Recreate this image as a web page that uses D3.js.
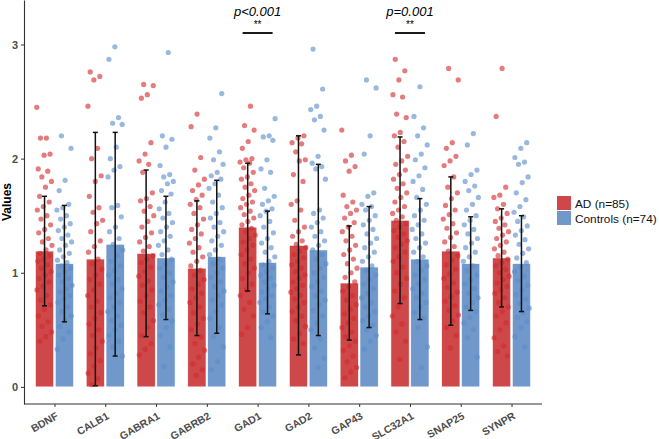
<!DOCTYPE html>
<html lang="en">
<head>
  <meta charset="UTF-8">
  <title>AD vs Controls</title>
  <script src="https://d3js.org/d3.v7.min.js"></script>
  <style>
    body { margin: 0; padding: 0; background: #fff; font-family: "Liberation Sans", Arial, sans-serif; }
    svg { display: block; }
  </style>
</head>
<body>
  <svg id="chart" width="659" height="439"></svg>
  <script>
    const genes = ["BDNF", "CALB1", "GABRA1", "GABRB2", "GAD1", "GAD2", "GAP43", "SLC32A1", "SNAP25", "SYNPR"];
    const groups = ["AD (n=85)", "Controls (n=74)"];
    const yTicks = [0, 1, 2, 3];

    const meanAD   = [1.19, 1.12, 1.17, 1.04, 1.40, 1.24, 0.91, 1.46, 1.19, 1.13];
    const sdAD     = [0.48, 1.11, 0.73, 0.59, 0.56, 0.96, 0.50, 0.73, 0.65, 0.43];
    const meanCtrl = [1.08, 1.25, 1.13, 1.14, 1.09, 1.20, 1.05, 1.12, 1.08, 1.08];
    const sdCtrl   = [0.51, 0.98, 0.54, 0.67, 0.45, 0.75, 0.53, 0.53, 0.41, 0.42];

    const pointsAD = [
      [2.45,2.18,2.18,2.04,2.03,1.91,1.89,1.84,1.80,1.75,1.67,1.62,1.58,1.55,1.50,1.47,1.42,1.38,1.35,1.30,1.27,1.24,1.20,1.17,1.15,1.12,1.10,1.07,1.04,1.01,0.98,0.95,0.92,0.88,0.85,0.80,0.76,0.72,0.68,0.62,0.57,0.53,0.48,0.44,0.40],
      [2.76,2.72,2.69,2.46,2.09,2.00,1.85,1.80,1.67,1.57,1.53,1.46,1.43,1.36,1.28,1.23,1.18,1.12,1.08,1.03,0.98,0.94,0.90,0.85,0.80,0.75,0.70,0.65,0.60,0.55,0.50,0.45,0.40,0.34,0.29,0.23,0.18,0.12,0.07,0.02],
      [2.65,2.64,2.56,2.53,2.14,2.04,1.98,1.95,1.88,1.70,1.65,1.63,1.58,1.54,1.50,1.45,1.40,1.35,1.31,1.27,1.23,1.19,1.15,1.12,1.09,1.05,1.01,0.97,0.93,0.89,0.85,0.80,0.75,0.70,0.65,0.58,0.52,0.45,0.38,0.33,0.28],
      [2.39,2.28,2.01,1.90,1.82,1.77,1.72,1.68,1.64,1.60,1.57,1.52,1.47,1.42,1.38,1.34,1.30,1.26,1.22,1.18,1.14,1.10,1.06,1.02,0.98,0.94,0.90,0.86,0.82,0.78,0.74,0.70,0.65,0.60,0.55,0.50,0.44,0.38,0.32,0.26,0.20,0.15,0.10],
      [2.46,2.29,2.25,2.15,2.09,2.00,1.99,1.97,1.96,1.92,1.88,1.84,1.82,1.78,1.75,1.72,1.68,1.65,1.62,1.60,1.57,1.54,1.51,1.48,1.45,1.42,1.39,1.36,1.33,1.30,1.27,1.24,1.20,1.16,1.12,1.08,1.04,1.00,0.95,0.90,0.85,0.80,0.74,0.68,0.62,0.52,0.46],
      [2.20,2.18,2.14,2.13,2.06,1.99,1.98,1.86,1.80,1.63,1.60,1.55,1.46,1.40,1.36,1.32,1.28,1.25,1.22,1.19,1.16,1.13,1.10,1.07,1.04,1.01,0.98,0.95,0.92,0.89,0.86,0.83,0.80,0.77,0.74,0.70,0.66,0.62,0.58,0.53,0.47,0.42,0.38],
      [2.25,2.03,1.98,1.93,1.89,1.68,1.62,1.58,1.55,1.52,1.48,1.44,1.40,1.36,1.32,1.28,1.24,1.20,1.16,1.12,1.08,1.04,1.00,0.96,0.92,0.88,0.84,0.80,0.76,0.72,0.68,0.64,0.60,0.56,0.52,0.48,0.44,0.40,0.36,0.32,0.27,0.22,0.17,0.13,0.08],
      [2.87,2.77,2.69,2.56,2.54,2.39,2.36,2.23,2.20,2.15,2.10,2.02,1.98,1.95,1.90,1.86,1.82,1.78,1.74,1.70,1.66,1.62,1.58,1.55,1.52,1.49,1.46,1.43,1.40,1.37,1.34,1.31,1.28,1.25,1.22,1.18,1.14,1.10,1.05,1.00,0.95,0.90,0.84,0.78,0.70,0.62,0.55,0.48,0.40,0.24],
      [2.79,2.69,2.14,2.09,2.02,1.98,1.94,1.84,1.75,1.70,1.65,1.59,1.55,1.51,1.47,1.43,1.39,1.35,1.31,1.27,1.23,1.19,1.15,1.11,1.07,1.03,0.99,0.95,0.91,0.87,0.83,0.79,0.75,0.71,0.67,0.63,0.58,0.52,0.45,0.34],
      [2.79,2.37,1.75,1.68,1.66,1.60,1.56,1.52,1.48,1.45,1.42,1.39,1.36,1.33,1.30,1.27,1.24,1.21,1.18,1.15,1.12,1.09,1.06,1.03,1.00,0.97,0.94,0.91,0.88,0.85,0.82,0.78,0.74,0.70,0.66,0.62,0.56,0.50,0.43,0.36,0.31,0.27]
    ];

    const pointsCtrl = [
      [2.20,2.09,1.81,1.72,1.60,1.57,1.55,1.50,1.47,1.43,1.40,1.37,1.33,1.30,1.27,1.24,1.20,1.17,1.14,1.11,1.09,1.06,1.04,1.01,0.98,0.95,0.92,0.89,0.86,0.83,0.80,0.77,0.74,0.70,0.66,0.62,0.58,0.53,0.48,0.42,0.33],
      [2.98,2.87,2.36,2.31,2.30,2.10,2.00,1.93,1.90,1.84,1.59,1.57,1.49,1.40,1.36,1.30,1.25,1.20,1.15,1.10,1.06,1.02,0.98,0.94,0.90,0.86,0.82,0.78,0.74,0.70,0.66,0.62,0.58,0.54,0.50,0.45,0.40,0.35,0.27],
      [2.93,2.20,2.17,2.10,1.94,1.86,1.84,1.80,1.78,1.72,1.69,1.62,1.56,1.52,1.48,1.44,1.40,1.36,1.32,1.28,1.24,1.20,1.16,1.12,1.08,1.04,1.00,0.96,0.92,0.88,0.84,0.80,0.76,0.72,0.68,0.63,0.58,0.52,0.45,0.35,0.18],
      [2.57,2.27,2.18,2.06,1.99,1.95,1.88,1.85,1.82,1.78,1.74,1.68,1.62,1.57,1.52,1.48,1.44,1.40,1.36,1.32,1.28,1.24,1.20,1.16,1.12,1.08,1.04,1.00,0.96,0.92,0.88,0.84,0.80,0.76,0.72,0.66,0.60,0.52,0.44,0.35,0.22,0.15],
      [2.35,2.20,2.19,2.16,1.99,1.91,1.88,1.74,1.67,1.63,1.60,1.56,1.54,1.50,1.45,1.40,1.35,1.30,1.26,1.22,1.18,1.14,1.10,1.07,1.04,1.01,0.98,0.95,0.92,0.89,0.86,0.83,0.80,0.77,0.74,0.70,0.66,0.62,0.57,0.52,0.43],
      [2.96,2.61,2.46,2.43,2.37,2.34,2.25,2.02,1.96,1.93,1.91,1.82,1.55,1.52,1.48,1.44,1.40,1.36,1.32,1.28,1.24,1.20,1.16,1.12,1.08,1.04,1.00,0.96,0.92,0.88,0.84,0.80,0.76,0.72,0.67,0.62,0.56,0.50,0.42,0.34,0.25,0.17],
      [2.69,2.62,2.20,2.04,1.70,1.67,1.60,1.58,1.55,1.50,1.46,1.42,1.38,1.34,1.30,1.26,1.22,1.18,1.14,1.10,1.06,1.02,0.98,0.94,0.90,0.86,0.82,0.78,0.74,0.70,0.66,0.62,0.58,0.54,0.50,0.45,0.40,0.33],
      [2.63,2.37,2.27,2.20,2.12,2.04,1.99,1.92,1.85,1.80,1.73,1.66,1.60,1.55,1.50,1.46,1.42,1.38,1.34,1.30,1.26,1.22,1.18,1.14,1.10,1.06,1.02,0.98,0.94,0.90,0.86,0.82,0.78,0.74,0.70,0.65,0.60,0.52,0.35,0.17],
      [2.22,2.12,1.90,1.86,1.80,1.76,1.72,1.66,1.60,1.55,1.50,1.46,1.42,1.38,1.34,1.30,1.26,1.22,1.18,1.14,1.10,1.06,1.02,0.98,0.94,0.90,0.86,0.82,0.78,0.74,0.70,0.66,0.61,0.56,0.50,0.43,0.26],
      [2.14,2.09,2.01,1.97,1.95,1.84,1.79,1.70,1.64,1.58,1.53,1.49,1.45,1.41,1.37,1.33,1.29,1.25,1.21,1.17,1.13,1.09,1.05,1.01,0.97,0.93,0.89,0.85,0.81,0.77,0.73,0.69,0.65,0.61,0.57,0.52,0.44,0.35]
    ];

    // significance brackets
    const sigGenes = ["GAD1", "SLC32A1"];
    const sigLabels = ["p<0.001", "p=0.001"];
    const sigStars = ["**", "**"];

    const barColors = ["#CE4749", "#7098CA"];
    const pointColors = ["#D42A2C", "#5B8CCB"];

    const svg = d3.select("#chart");
    const plotL = 24, plotR = 542, plotT = 0, plotB = 404;

    // ggplot-like discrete axis: 0.6 units expansion each side
    const step = (plotR - plotL) / (genes.length - 1 + 1.2);
    const xc = d3.scalePoint().domain(genes)
      .range([plotL + step * 0.6, plotR - step * 0.6]);
    const xg = d3.scaleBand().domain(groups).range([-step * 0.375, step * 0.375]).paddingInner(0.08);

    const y = d3.scaleLinear().domain([-0.15, 3.39]).range([plotB, plotT]);

    const rows = [];
    genes.forEach((g, i) => {
      rows.push({ gene: g, gi: i, grp: 0, mean: meanAD[i], sd: sdAD[i], pts: pointsAD[i] });
      rows.push({ gene: g, gi: i, grp: 1, mean: meanCtrl[i], sd: sdCtrl[i], pts: pointsCtrl[i] });
    });

    const bx = d => xc(d.gene) + xg(groups[d.grp]);
    const bw = xg.bandwidth();

    // bars
    svg.append("g").selectAll("rect")
      .data(rows).enter().append("rect")
      .attr("x", bx)
      .attr("width", bw)
      .attr("y", d => y(d.mean))
      .attr("height", d => y(0) - y(d.mean))
      .attr("fill", d => barColors[d.grp])
      .attr("stroke", "#fff")
      .attr("stroke-width", 0.6);

    // jittered points
    const pts = [];
    rows.forEach(r => {
      r.pts.forEach((v, j) => {
        const off = ((j * 0.618034 + r.grp * 0.31 + r.gi * 0.17) % 1) - 0.5;
        pts.push({ x: bx(r) + bw / 2 + off * bw * 0.85, v, grp: r.grp });
      });
    });
    svg.append("g").selectAll("circle")
      .data(pts).enter().append("circle")
      .attr("cx", d => d.x)
      .attr("cy", d => y(d.v))
      .attr("r", 2.6)
      .attr("fill", d => pointColors[d.grp])
      .attr("fill-opacity", 0.62);

    // error bars (mean ± SD)
    const eb = svg.append("g").attr("stroke", "#111").attr("stroke-width", 1.5);
    rows.forEach(r => {
      const c = bx(r) + bw / 2;
      const lo = Math.max(0, r.mean - r.sd), hi = r.mean + r.sd;
      eb.append("line").attr("x1", c).attr("x2", c).attr("y1", y(lo)).attr("y2", y(hi));
      eb.append("line").attr("x1", c - 2.5).attr("x2", c + 2.5).attr("y1", y(lo)).attr("y2", y(lo));
      eb.append("line").attr("x1", c - 2.5).attr("x2", c + 2.5).attr("y1", y(hi)).attr("y2", y(hi));
    });

    // axes
    const gy = svg.append("g").attr("transform", `translate(${plotL},0)`)
      .call(d3.axisLeft(y).tickValues(yTicks).tickFormat(d3.format("d")).tickSize(3).tickSizeOuter(0));
    gy.select(".domain").attr("stroke", "#333").attr("stroke-width", 1.1);
    gy.selectAll(".tick line").attr("stroke", "#333");
    gy.selectAll("text").attr("font-size", 11).attr("fill", "#4d4d4d").attr("font-weight", "bold");

    const gx = svg.append("g").attr("transform", `translate(0,${plotB})`)
      .call(d3.axisBottom(xc).tickSize(3).tickSizeOuter(0));
    gx.select(".domain").remove();
    gx.append("line").attr("x1", plotL).attr("x2", plotR).attr("stroke", "#333").attr("stroke-width", 1.1);
    gx.selectAll(".tick line").attr("stroke", "#333");
    gx.selectAll(".tick text")
      .attr("font-size", 10.5).attr("font-weight", "bold").attr("fill", "#4d4d4d")
      .attr("text-anchor", "end")
      .attr("dy", null).attr("y", 0)
      .attr("transform", "translate(4,14) rotate(-30)");

    svg.append("text")
      .attr("transform", `translate(11,${(plotT + plotB) / 2}) rotate(-90)`)
      .attr("text-anchor", "middle")
      .attr("font-size", 12).attr("font-weight", "bold")
      .text("Values");

    // significance
    sigGenes.forEach((g, i) => {
      const c = xc(g);
      svg.append("line").attr("x1", c - 15).attr("x2", c + 15).attr("y1", 33).attr("y2", 33)
        .attr("stroke", "#000").attr("stroke-width", 1.8);
      svg.append("text").attr("x", c).attr("y", 28).attr("text-anchor", "middle")
        .attr("font-size", 10).text(sigStars[i]);
      svg.append("text").attr("x", c).attr("y", 16).attr("text-anchor", "middle")
        .attr("font-size", 13).attr("font-style", "italic").text(sigLabels[i]);
    });

    // legend
    const lg = svg.append("g").attr("transform", "translate(557,196)");
    groups.forEach((g, i) => {
      lg.append("rect").attr("x", 0).attr("y", i * 15).attr("width", 14).attr("height", 14)
        .attr("fill", barColors[i]);
      lg.append("text").attr("x", 18).attr("y", i * 15 + 11.5)
        .attr("font-size", 11.8).attr("fill", "#111").text(g);
    });
  </script>
</body>
</html>
